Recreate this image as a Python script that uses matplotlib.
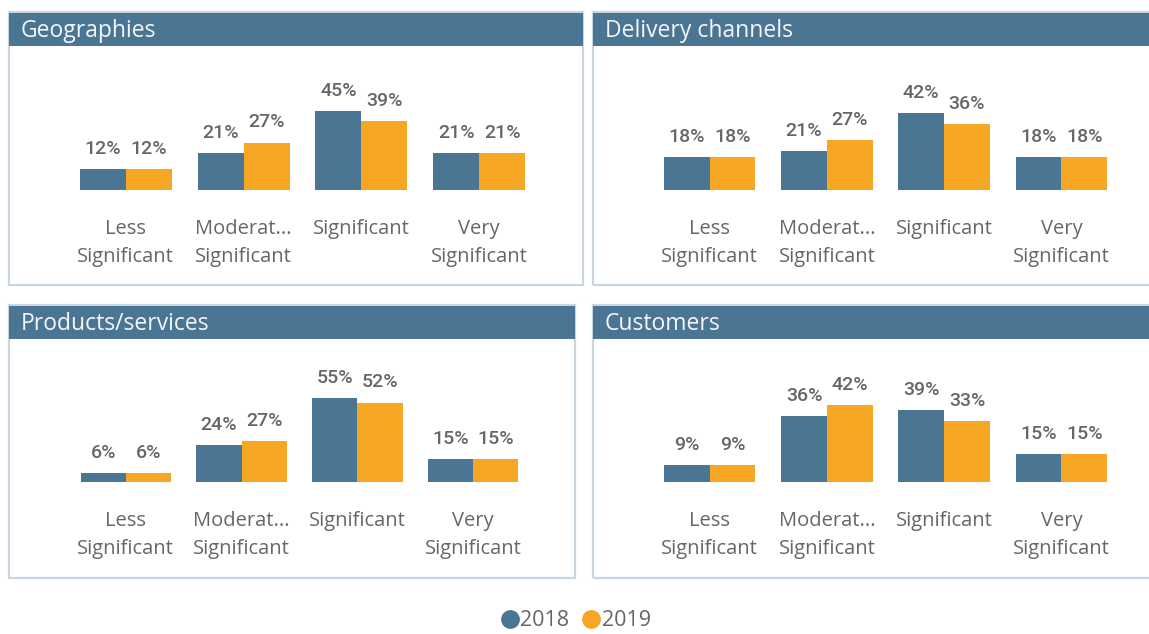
import matplotlib
matplotlib.use('Agg')
import matplotlib.pyplot as plt
from matplotlib.patches import Rectangle
from matplotlib.lines import Line2D
import numpy as np

W, H = 1149, 634

categories = ['Less\nSignificant', 'Moderat...\nSignificant', 'Significant', 'Very\nSignificant']
years = ['2018', '2019']

geo_2018 = [12, 21, 45, 21]
geo_2019 = [12, 27, 39, 21]
del_2018 = [18, 21, 42, 18]
del_2019 = [18, 27, 36, 18]
prod_2018 = [6, 24, 55, 15]
prod_2019 = [6, 27, 52, 15]
cust_2018 = [9, 36, 39, 15]
cust_2019 = [9, 42, 33, 15]

BLUE = '#4a7593'
ORANGE = '#f5a623'
BORDER = '#c9d5e0'
GREY = '#666666'

plt.rcParams['font.family'] = ['Open Sans', 'DejaVu Sans']

fig = plt.figure(figsize=(W / 100, H / 100), dpi=100)
fig.patch.set_facecolor('white')


def frac(x0, y0, x1, y1):
    # pixel box (top-left origin) -> figure fraction [left, bottom, w, h]
    return [x0 / W, 1 - y1 / H, (x1 - x0) / W, (y1 - y0) / H]


def panel(box, title, ax_box, vals18, vals19, ytop):
    x0, y0, x1, y1 = box
    fig.patches.append(Rectangle((x0 / W, 1 - y1 / H), (x1 - x0) / W, (y1 - y0) / H,
                                 transform=fig.transFigure, facecolor='none',
                                 edgecolor=BORDER, linewidth=1.6, zorder=0))
    fig.patches.append(Rectangle((x0 / W, 1 - (y0 + 34) / H), (x1 - x0) / W, 33 / H,
                                 transform=fig.transFigure, facecolor=BLUE,
                                 edgecolor='none', zorder=1))
    fig.text((x0 + 12) / W, 1 - (y0 + 19) / H, title, fontsize=16.5, color='#f4f7fa',
             ha='left', va='center', zorder=2)

    ax = fig.add_axes(frac(*ax_box))
    x = np.arange(len(categories))
    w = 0.39
    b1 = ax.bar(x - w / 2, vals18, w, color=BLUE)
    b2 = ax.bar(x + w / 2, vals19, w, color=ORANGE)
    for bars, vals in ((b1, vals18), (b2, vals19)):
        for r, v in zip(bars, vals):
            ax.annotate(f'{v}%', (r.get_x() + r.get_width() / 2, r.get_height()),
                        xytext=(0, 8), textcoords='offset points', ha='center',
                        va='bottom', fontsize=14, color=GREY, fontweight='medium',
                        family=['Roboto', 'DejaVu Sans'])
    ax.set_xlim(-0.5, 3.5)
    ax.set_ylim(0, ytop)
    ax.set_xticks(x)
    ax.set_xticklabels(categories, fontsize=14.5, color=GREY, linespacing=1.55)
    ax.tick_params(axis='x', length=0, pad=21)
    ax.set_yticks([])
    for s in ax.spines.values():
        s.set_visible(False)
    ax.patch.set_alpha(0)
    return ax


panel((9, 12, 583, 285), 'Geographies', (67, 90, 538, 190), geo_2018, geo_2019, 56.9)
panel((593, 12, 1170, 285), 'Delivery channels', (651, 90, 1120, 190), del_2018, del_2019, 54.5)
panel((9, 305, 575, 578), 'Products/services', (68, 382, 531, 482), prod_2018, prod_2019, 65.5)
panel((593, 305, 1170, 578), 'Customers', (651, 382, 1120, 482), cust_2018, cust_2019, 54.5)

handles = [Line2D([], [], marker='o', linestyle='none', markersize=12.5, color=c)
           for c in (BLUE, ORANGE)]
fig.legend(handles, years, loc='center', bbox_to_anchor=(575 / W, 1 - 621 / H),
           ncol=2, frameon=False, fontsize=15.5, labelcolor=GREY, handletextpad=0.0,
           columnspacing=0.5, borderaxespad=0, handlelength=1.0)

plt.savefig('out.png', dpi=100, facecolor='white')
